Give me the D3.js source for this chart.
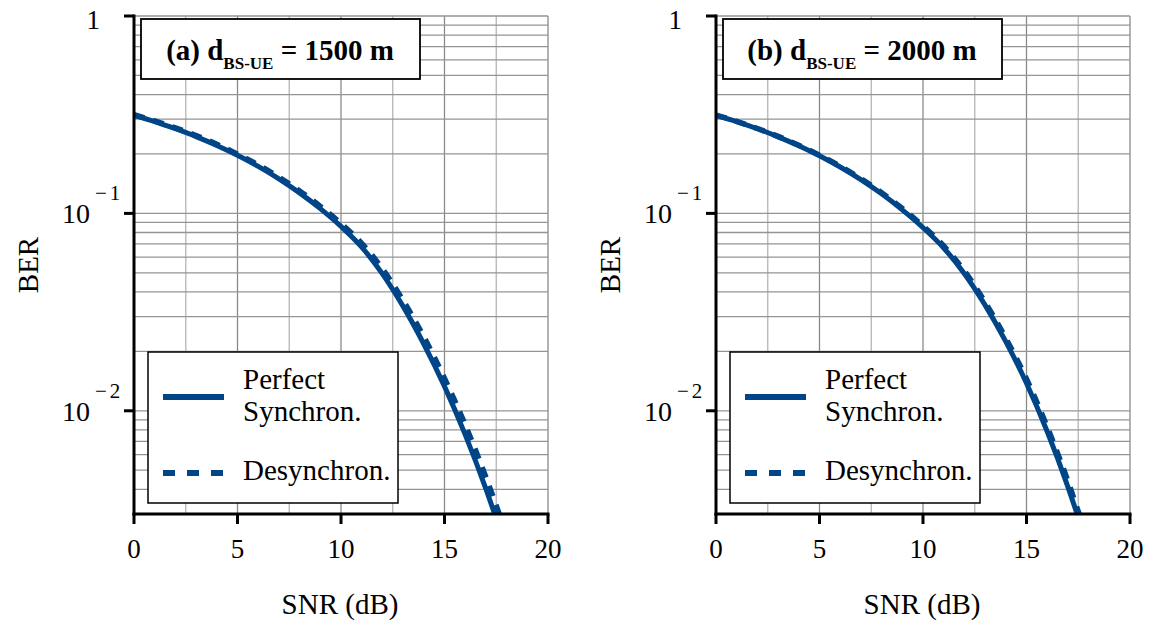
<!DOCTYPE html>
<html><head><meta charset="utf-8">
<script src="https://cdn.jsdelivr.net/npm/d3@7"></script>
<style>body{margin:0;background:#fff;} svg{display:block;} text{font-family:'Liberation Serif','Times New Roman',Times,'DejaVu Serif',serif;}</style>
</head><body>
<svg id="c" width="1156" height="630"></svg>
<script>
// ---- data ----
const xTicks = [0, 5, 10, 15, 20];
const yTickLabels = [["1", ""], ["10", "−1"], ["10", "−2"]];
const yTickValues = [1, 0.1, 0.01];
const panelTitles = [["(a) d", "BS-UE", " = 1500 m"], ["(b) d", "BS-UE", " = 2000 m"]];
const legendLabels = [["Perfect", "Synchron."], ["Desynchron."]];

const snrPerfectA = [0,1,2,3,4,5,6,7,8,9,10,11,12,13,14,15,16,17,17.5];
const berPerfectA = [0.314,0.292,0.2685,0.245,0.221,0.197,0.173,0.1496,0.127,0.1057,0.0859,0.0675,0.0494,0.0338,0.0218,0.0133,0.00757,0.00402,0.00284];
const snrDesyncA = [0,1,2,3,4,5,6,7,8,9,10,11,12,13,14,15,16,17,17.5,17.8];
const berDesyncA = [0.316,0.294,0.271,0.248,0.224,0.1995,0.176,0.1524,0.130,0.1086,0.0889,0.0705,0.0524,0.0362,0.0237,0.0146,0.00849,0.00461,0.00331,0.00269];

const snrPerfectB = [0,1,2,3,4,5,6,7,8,9,10,11,12,13,14,15,16,17,17.5];
const berPerfectB = [0.314,0.292,0.2685,0.2443,0.2203,0.1959,0.1718,0.1483,0.1256,0.1042,0.0847,0.0668,0.0495,0.0343,0.0224,0.0138,0.00785,0.00412,0.00288];
const snrDesyncB = [0,1,2,3,4,5,6,7,8,9,10,11,12,13,14,15,16,17,17.5,17.6];
const berDesyncB = [0.3148,0.2924,0.2692,0.2455,0.2213,0.1972,0.1734,0.15,0.1274,0.1059,0.0863,0.0684,0.0511,0.0355,0.0233,0.0145,0.00828,0.0044,0.00309,0.00288];

const panels = [
  {left: 134, perfect: [snrPerfectA, berPerfectA], desync: [snrDesyncA, berDesyncA]},
  {left: 716, perfect: [snrPerfectB, berPerfectB], desync: [snrDesyncB, berDesyncB]}
];

const color = "#004587";
const svg = d3.select("#c");
const yTop = 16, yBot = 514, W = 414;

panels.forEach((p, i) => {
  const g = svg.append("g").attr("transform", `translate(${p.left},0)`);
  const x = d3.scaleLinear().domain([0, 20]).range([0, W]);
  const y = d3.scaleLog().domain([0.003, 1]).range([yBot, yTop]);

  // grid
  const grid = g.append("g");
  d3.range(0, 20.01, 2.5).forEach(v => {
    grid.append("line").attr("x1", x(v)).attr("x2", x(v)).attr("y1", yTop).attr("y2", yBot)
      .attr("stroke", v % 5 === 0 ? "#8a8a8a" : "#b5b5b5").attr("stroke-width", 1.3);
  });
  const minor = [];
  [1, 0.1, 0.01, 0.001].forEach(d => { for (let k = 1; k <= 9; k++) { const v = k * d; if (v >= 0.003 && v <= 1) minor.push(v); } });
  minor.forEach(v => {
    grid.append("line").attr("x1", 0).attr("x2", W).attr("y1", y(v)).attr("y2", y(v))
      .attr("stroke", "#959595").attr("stroke-width", 1.3);
  });

  // curves
  const clipId = "clip" + i;
  g.append("clipPath").attr("id", clipId).append("rect").attr("x", 0).attr("y", yTop).attr("width", W).attr("height", yBot - yTop);
  const line = d3.line().x(d => x(d[0])).y(d => y(d[1])).curve(d3.curveMonotoneX);
  const toPts = s => s[0].map((v, j) => [v, s[1][j]]);
  g.append("path").attr("clip-path", `url(#${clipId})`).attr("d", line(toPts(p.desync)))
    .attr("fill", "none").attr("stroke", color).attr("stroke-width", 5.5).attr("stroke-dasharray", "11,9");
  g.append("path").attr("clip-path", `url(#${clipId})`).attr("d", line(toPts(p.perfect)))
    .attr("fill", "none").attr("stroke", color).attr("stroke-width", 5);

  // axes
  g.append("line").attr("x1", 0).attr("x2", 0).attr("y1", yTop - 1.5).attr("y2", yBot + 1.5).attr("stroke", "#000").attr("stroke-width", 3);
  g.append("line").attr("x1", -1.5).attr("x2", W + 1.5).attr("y1", yBot).attr("y2", yBot).attr("stroke", "#000").attr("stroke-width", 3);
  xTicks.forEach(v => {
    g.append("line").attr("x1", x(v)).attr("x2", x(v)).attr("y1", yBot).attr("y2", yBot + 10).attr("stroke", "#000").attr("stroke-width", 3);
    g.append("text").attr("x", x(v)).attr("y", 558).attr("text-anchor", "middle").attr("font-size", 27).text(v);
  });
  yTickValues.forEach((v, j) => {
    g.append("line").attr("x1", -10).attr("x2", 0).attr("y1", y(v)).attr("y2", y(v)).attr("stroke", "#000").attr("stroke-width", 3);
    const lab = yTickLabels[j];
    if (lab[1] === "") {
      g.append("text").attr("x", -34).attr("y", y(v) + 13).attr("text-anchor", "end").attr("font-size", 27).text(lab[0]);
    } else {
      const t = g.append("text").attr("x", -72).attr("y", y(v) + 10).attr("text-anchor", "start").attr("font-size", 28);
      t.append("tspan").text(lab[0]);
      t.append("tspan").attr("font-size", 21).attr("dx", 5).attr("dy", -23).text(lab[1].slice(0, 1));
      t.append("tspan").attr("font-size", 21).attr("dx", 3).text(lab[1].slice(1));
    }
  });
  g.append("text").attr("transform", `translate(${-96},265) rotate(-90)`).attr("text-anchor", "middle").attr("font-size", 29).text("BER");
  g.append("text").attr("x", W / 2 - 1).attr("y", 614).attr("text-anchor", "middle").attr("font-size", 29).text("SNR (dB)");

  // title box
  g.append("rect").attr("x", 7).attr("y", 19).attr("width", 279).attr("height", 60).attr("fill", "#fff").attr("stroke", "#000").attr("stroke-width", 1.8);
  const tt = g.append("text").attr("x", 146).attr("y", 60).attr("text-anchor", "middle").attr("font-weight", "bold").attr("font-size", 29);
  tt.append("tspan").text(panelTitles[i][0]);
  tt.append("tspan").attr("font-size", 17).attr("dy", 9).text(panelTitles[i][1]);
  tt.append("tspan").attr("dy", -9).text(panelTitles[i][2]);

  // legend
  const lg = g.append("g");
  lg.append("rect").attr("x", 14).attr("y", 352).attr("width", 250).attr("height", 151).attr("fill", "#fff").attr("stroke", "#000").attr("stroke-width", 1.5);
  lg.append("line").attr("x1", 29).attr("x2", 90).attr("y1", 397).attr("y2", 397).attr("stroke", color).attr("stroke-width", 6);
  lg.append("line").attr("x1", 29).attr("x2", 90).attr("y1", 473).attr("y2", 473).attr("stroke", color).attr("stroke-width", 6).attr("stroke-dasharray", "12,12");
  lg.append("text").attr("x", 109).attr("y", 389).attr("font-size", 29).text(legendLabels[0][0]);
  lg.append("text").attr("x", 109).attr("y", 421).attr("font-size", 29).text(legendLabels[0][1]);
  lg.append("text").attr("x", 109).attr("y", 480).attr("font-size", 29).text(legendLabels[1][0]);
});
</script>
</body></html>
